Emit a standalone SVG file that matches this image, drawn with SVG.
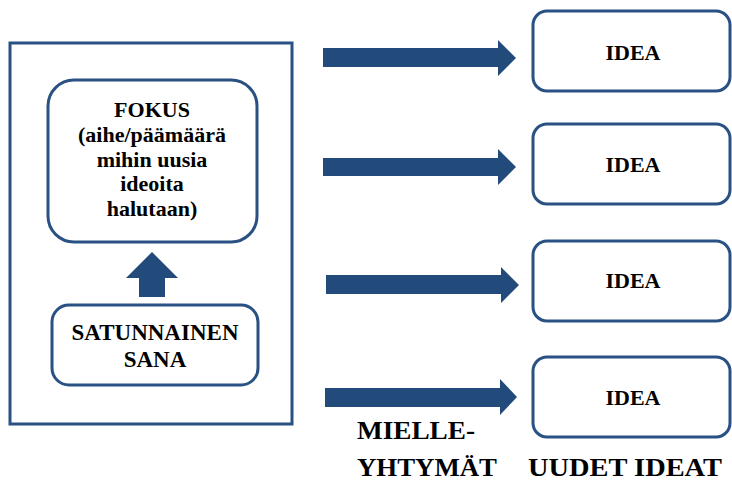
<svg xmlns="http://www.w3.org/2000/svg" width="732" height="483" viewBox="0 0 732 483">
<defs>
<rect id="ideabox" width="197" height="80" rx="14" fill="#fff" stroke="#2a5183" stroke-width="3"/>
</defs>
<rect width="732" height="483" fill="#fff"/>
<g font-family="Times New Roman" font-weight="bold" font-size="22" text-anchor="middle" fill="#000">
<g id="outer"><rect x="10" y="43" width="282" height="381" fill="#fff" stroke="#2a5183" stroke-width="3"/></g>
<g id="fokus">
<rect x="48" y="80" width="209" height="162" rx="26" fill="#fff" stroke="#2a5183" stroke-width="3"/>
<text x="152" y="117">FOKUS</text>
<text x="152" y="142">(aihe/päämäärä</text>
<text x="152" y="167">mihin uusia</text>
<text x="152" y="191">ideoita</text>
<text x="152" y="216">halutaan)</text>
</g>
<g id="satunnainen">
<rect x="52" y="305" width="206" height="80" rx="17" fill="#fff" stroke="#2a5183" stroke-width="3"/>
<text x="155" y="340" font-size="23">SATUNNAINEN</text>
<text x="155" y="367" font-size="23">SANA</text>
</g>
<g id="idea1"><use href="#ideabox" x="533" y="11"/><text x="633" y="60">IDEA</text></g>
<g id="idea2"><use href="#ideabox" x="533" y="124"/><text x="633" y="172">IDEA</text></g>
<g id="idea3"><use href="#ideabox" x="533" y="241"/><text x="633" y="288">IDEA</text></g>
<g id="idea4"><use href="#ideabox" x="533" y="357"/><text x="633" y="405">IDEA</text></g>
<g id="connectors" fill="#224a7a">
<polygon points="139,297 165,297 165,278 178,278 152,252 126,278 139,278"/>
<polygon points="323,48 498,48 498,40 516,58 498,76 498,67 323,67"/>
<polygon points="323,158 498,158 498,149 516,167 498,185 498,176 323,176"/>
<polygon points="326,275 501,275 501,267 519,285 501,303 501,294 326,294"/>
<polygon points="325,388 500,388 500,379 517,397 500,415 500,407 325,407"/>
</g>
<g id="labels" font-size="25">
<text x="416" y="439" textLength="118" lengthAdjust="spacingAndGlyphs">MIELLE-</text>
<text x="427" y="476" textLength="140" lengthAdjust="spacingAndGlyphs">YHTYMÄT</text>
<text x="625" y="476" textLength="194" lengthAdjust="spacingAndGlyphs">UUDET IDEAT</text>
</g>
</g>
</svg>
